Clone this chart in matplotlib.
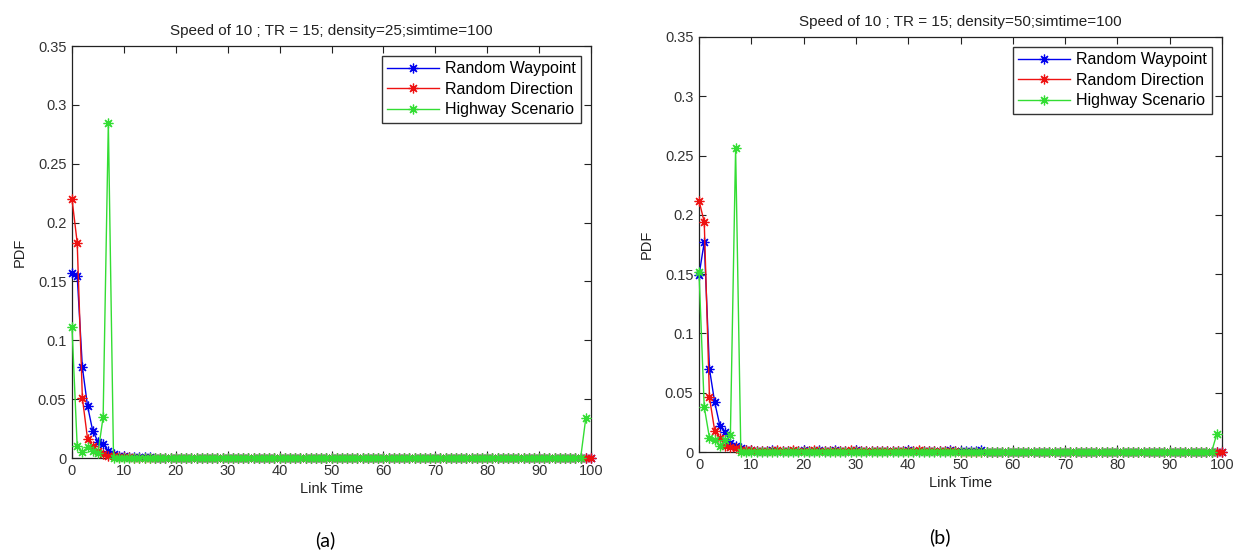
import numpy as np
import matplotlib
matplotlib.use("Agg")
import matplotlib.pyplot as plt

plt.rcParams['font.family'] = ['Liberation Sans', 'DejaVu Sans']

# link time axis (0..100 s)
link_time = list(range(0, 101))
link_time_hw = list(range(0, 100))

# ---- panel (a): density = 25 ----
waypoint_a = [
    0.157, 0.155, 0.077, 0.044, 0.023, 0.014, 0.012, 0.006, 0.003, 0.002,
    0.002, 0.001, 0.001, 0.001, 0.001, 0.001, 0.000, 0.000, 0.000, 0.000,
    0, 0, 0, 0, 0, 0, 0, 0, 0, 0,
    0, 0, 0, 0, 0, 0, 0, 0, 0, 0,
    0, 0, 0, 0, 0, 0, 0, 0, 0, 0,
    0, 0, 0, 0, 0, 0, 0, 0, 0, 0,
    0, 0, 0, 0, 0, 0, 0, 0, 0, 0,
    0, 0, 0, 0, 0, 0, 0, 0, 0, 0,
    0, 0, 0, 0, 0, 0, 0, 0, 0, 0,
    0, 0, 0, 0, 0, 0, 0, 0, 0, 0,
    0,
]
direction_a = [
    0.220, 0.183, 0.051, 0.016, 0.010, 0.006, 0.003, 0.002, 0.002, 0.001,
    0.001, 0.001, 0, 0, 0, 0, 0, 0, 0, 0,
    0, 0, 0, 0, 0, 0, 0, 0, 0, 0,
    0, 0, 0, 0, 0, 0, 0, 0, 0, 0,
    0, 0, 0, 0, 0, 0, 0, 0, 0, 0,
    0, 0, 0, 0, 0, 0, 0, 0, 0, 0,
    0, 0, 0, 0, 0, 0, 0, 0, 0, 0,
    0, 0, 0, 0, 0, 0, 0, 0, 0, 0,
    0, 0, 0, 0, 0, 0, 0, 0, 0, 0,
    0, 0, 0, 0, 0, 0, 0, 0, 0, 0,
    0,
]
highway_a = [
    0.111, 0.010, 0.005, 0.009, 0.006, 0.004, 0.035, 0.285, 0, 0,
    0, 0, 0, 0, 0, 0, 0, 0, 0, 0,
    0, 0, 0, 0, 0, 0, 0, 0, 0, 0,
    0, 0, 0, 0, 0, 0, 0, 0, 0, 0,
    0, 0, 0, 0, 0, 0, 0, 0, 0, 0,
    0, 0, 0, 0, 0, 0, 0, 0, 0, 0,
    0, 0, 0, 0, 0, 0, 0, 0, 0, 0,
    0, 0, 0, 0, 0, 0, 0, 0, 0, 0,
    0, 0, 0, 0, 0, 0, 0, 0, 0, 0,
    0, 0, 0, 0, 0, 0, 0, 0, 0, 0.034,
]

# ---- panel (b): density = 50 ----
waypoint_b = [
    0.149, 0.177, 0.070, 0.042, 0.022, 0.017, 0.008, 0.005, 0.003, 0.002,
    0.002, 0.001, 0.001, 0.001, 0.002, 0.001, 0.001, 0.001, 0.001, 0.001,
    0.002, 0.001, 0.001, 0.002, 0.001, 0.001, 0.002, 0.001, 0.001, 0.001,
    0.002, 0.001, 0.001, 0.001, 0.001, 0.001, 0.001, 0.001, 0.001, 0.001,
    0.002, 0.001, 0.001, 0.001, 0.001, 0.001, 0.001, 0.001, 0.002, 0.001,
    0.001, 0.001, 0.001, 0.001, 0.002, 0, 0, 0, 0, 0,
    0, 0, 0, 0, 0, 0, 0, 0, 0, 0,
    0, 0, 0, 0, 0, 0, 0, 0, 0, 0,
    0, 0, 0, 0, 0, 0, 0, 0, 0, 0,
    0, 0, 0, 0, 0, 0, 0, 0, 0, 0,
    0,
]
direction_b = [
    0.212, 0.194, 0.046, 0.018, 0.012, 0.005, 0.004, 0.003, 0.002, 0.002,
    0.002, 0.001, 0.001, 0.001, 0.001, 0.002, 0.001, 0.001, 0.002, 0.001,
    0.001, 0.001, 0.002, 0.001, 0.001, 0.001, 0.001, 0.001, 0.001, 0.002,
    0.001, 0.001, 0.001, 0.001, 0.001, 0.001, 0.001, 0.001, 0.001, 0.001,
    0.001, 0.001, 0.002, 0.001, 0.001, 0.001, 0.001, 0.001, 0.001, 0.001,
    0, 0, 0, 0, 0, 0, 0, 0, 0, 0,
    0, 0, 0, 0, 0, 0, 0, 0, 0, 0,
    0, 0, 0, 0, 0, 0, 0, 0, 0, 0,
    0, 0, 0, 0, 0, 0, 0, 0, 0, 0,
    0, 0, 0, 0, 0, 0, 0, 0, 0, 0,
    0,
]
highway_b = [
    0.152, 0.038, 0.012, 0.010, 0.005, 0.010, 0.014, 0.256, 0, 0,
    0, 0, 0, 0, 0, 0, 0, 0, 0, 0,
    0, 0, 0, 0, 0, 0, 0, 0, 0, 0,
    0, 0, 0, 0, 0, 0, 0, 0, 0, 0,
    0, 0, 0, 0, 0, 0, 0, 0, 0, 0,
    0, 0, 0, 0, 0, 0, 0, 0, 0, 0,
    0, 0, 0, 0, 0, 0, 0, 0, 0, 0,
    0, 0, 0, 0, 0, 0, 0, 0, 0, 0,
    0, 0, 0, 0, 0, 0, 0, 0, 0, 0,
    0, 0, 0, 0, 0, 0, 0, 0, 0, 0.015,
]

series_names = ["Random Waypoint", "Random Direction", "Highway Scenario"]
series_colors = ["#0000ee", "#ee1111", "#33dd33"]
titles = ["Speed of 10 ; TR = 15; density=25;simtime=100",
          "Speed of 10 ; TR = 15; density=50;simtime=100"]
captions = ["(a)", "(b)"]
x_ticks = [0, 10, 20, 30, 40, 50, 60, 70, 80, 90, 100]
y_ticks = [0, 0.05, 0.1, 0.15, 0.2, 0.25, 0.3, 0.35]
y_tick_labels = ["0", "0.05", "0.1", "0.15", "0.2", "0.25", "0.3", "0.35"]

W, H = 1239, 558
fig = plt.figure(figsize=(W / 100, H / 100), dpi=100)


def px_axes(left, top, right, bottom):
    return fig.add_axes([left / W, 1 - bottom / H, (right - left) / W, (bottom - top) / H])


# matlab-like '*' marker: plus and cross together
asterisk = (8, 2, 0)


def draw_panel(ax, data, title):
    for (xs, ys), name, col in zip(data, series_names, series_colors):
        ax.plot(xs, ys, color=col, linewidth=1.0, marker=asterisk,
                markersize=7, markeredgewidth=0.9, label=name, clip_on=False)
    ax.set_xlim(0, 100)
    ax.set_ylim(0, 0.35)
    ax.set_xticks(x_ticks)
    ax.set_yticks(y_ticks)
    ax.set_yticklabels(y_tick_labels)
    ax.tick_params(direction="in", top=True, right=True, length=5,
                   labelsize=10.5, labelcolor="#333333", color="#222222", pad=4)
    for sp in ax.spines.values():
        sp.set_color("#222222")
        sp.set_linewidth(0.9)
        sp.set_zorder(1)
    ax.set_title(title, fontsize=11, color="#222222", pad=8)
    ax.set_xlabel("Link Time", fontsize=10.5, color="#222222", labelpad=3)
    ax.set_ylabel("PDF", fontsize=10.5, color="#222222", labelpad=8)
    leg = ax.legend(loc="upper right", fontsize=11.5, frameon=True, fancybox=False,
                    borderaxespad=0.6, handlelength=3.2, handletextpad=0.4,
                    labelspacing=0.35, borderpad=0.35)
    leg.get_frame().set_edgecolor("black")
    leg.get_frame().set_linewidth(1.0)
    leg.set_zorder(5)


ax1 = px_axes(72, 46, 591, 458)
draw_panel(ax1, [(link_time, waypoint_a), (link_time, direction_a),
                 (link_time_hw, highway_a)], titles[0])

ax2 = px_axes(699, 37, 1222, 452)
draw_panel(ax2, [(link_time, waypoint_b), (link_time, direction_b),
                 (link_time_hw, highway_b)], titles[1])

fig.text(325 / W, 1 - 540 / H, captions[0], fontsize=14, family=["Lato", "DejaVu Sans"],
         ha="center", va="center")
fig.text(940 / W, 1 - 537 / H, captions[1], fontsize=14, family=["Lato", "DejaVu Sans"],
         ha="center", va="center")

fig.savefig("out.png", dpi=100)
